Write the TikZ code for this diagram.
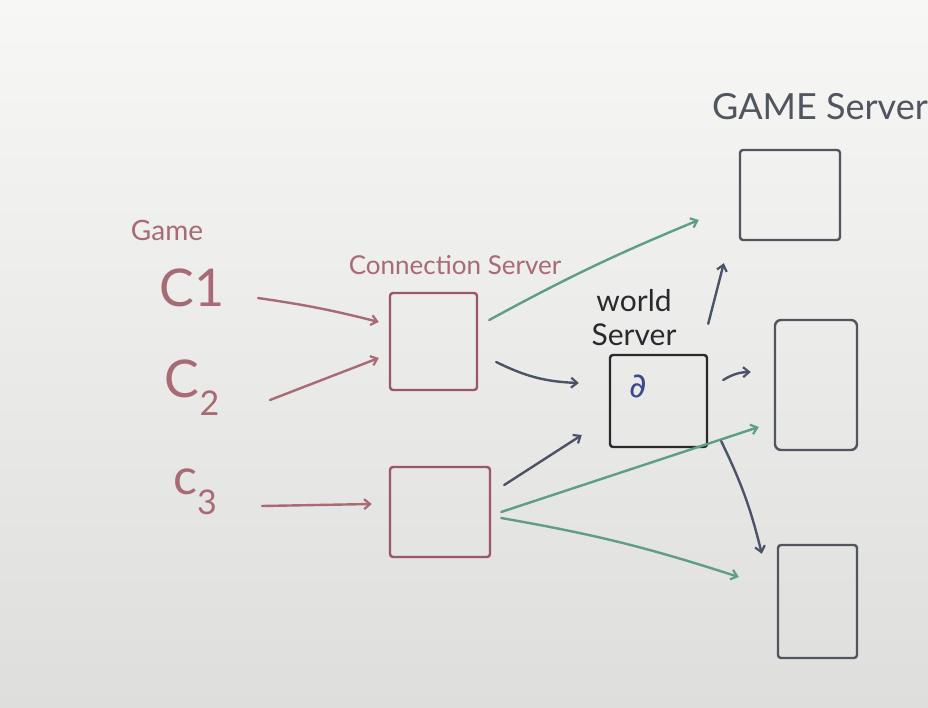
\documentclass[tikz,border=0pt]{standalone}
\usepackage{fontspec}
\setmainfont{Lato}
\newfontfamily\symfont{DejaVu Sans}
\usetikzlibrary{arrows.meta,calc}
\definecolor{redink}{HTML}{A86A74}
\definecolor{redbox}{HTML}{9A5866}
\definecolor{greenink}{HTML}{5E9E86}
\definecolor{darkink}{HTML}{4C5366}
\definecolor{blackink}{HTML}{2A2A2E}
\definecolor{grayink}{HTML}{50555F}
\definecolor{blueink}{HTML}{3C4A8C}
\definecolor{bgtop}{HTML}{F7F7F5}
\definecolor{bgbot}{HTML}{DEDEDC}
\begin{document}
\begin{tikzpicture}[x=1pt,y=-1pt,
  ink/.style={line width=2.4pt, line cap=round, line join=round},
  tip/.style={-{Straight Barb[length=6pt,width=10pt,line width=2.2pt]}},
  board/.style={draw, rectangle, ink, rounded corners=3pt, inner sep=0pt},
  redarrow/.style={ink, tip, draw=redink},
  greenarrow/.style={ink, tip, draw=greenink},
  darkarrow/.style={ink, tip, draw=darkink},
  label/.style={inner sep=0pt, anchor=center}
]
\shade[top color=bgtop, bottom color=bgbot] (0,0) rectangle (928,708);
\useasboundingbox (0,0) rectangle (928,708);

% text labels
\node[label, text=redink, font=\fontsize{28}{30}\selectfont] (game) at (167,230) {Game};
\node[label, text=redink, font=\fontsize{52}{54}\selectfont] (c1) at (192,288) {C1};
\node[label, text=redink, font=\fontsize{52}{54}\selectfont] (c2) at (192,388) {C\raisebox{-0.35em}{\fontsize{34}{36}\selectfont 2}};
\node[label, text=redink, font=\fontsize{50}{52}\selectfont] (c3) at (195,492) {c\raisebox{-0.4em}{\fontsize{34}{36}\selectfont 3}};
\node[label, text=redink, font=\fontsize{26}{28}\selectfont] (cslabel) at (455,265) {Connection Server};
\node[label, text=blackink, font=\fontsize{30}{34}\selectfont, align=center] (wslabel) at (634,318) {world\\Server};
\node[label, text=grayink, font=\fontsize{36}{38}\selectfont] (gslabel) at (820,107) {GAME Server};

% boxes
\node[board, draw=redbox, minimum width=87pt, minimum height=97pt] (cs1) at (433.5,341.5) {};
\node[board, draw=redbox, minimum width=100pt, minimum height=90pt] (cs2) at (440,512) {};
\node[board, draw=blackink, minimum width=97pt, minimum height=92pt] (ws) at (658.5,401) {};
\node[label, text=blueink, font=\symfont\fontsize{34}{36}\selectfont] (wsmark) at (638,386) {∂};
\node[board, draw=grayink, minimum width=100pt, minimum height=90pt] (gs1) at (790,195) {};
\node[board, draw=grayink, minimum width=82pt, minimum height=130pt, rounded corners=6pt] (gs2) at (816,385) {};
\node[board, draw=grayink, minimum width=79pt, minimum height=113pt] (gs3) at (817.5,601.5) {};

% client arrows
\draw[redarrow] ($(c1.center)+(66,10)$) to[bend left=3] ($(cs1.west)+(-10,-19.5)$);
\draw[redarrow] ($(c2.center)+(78,12)$) -- ($(cs1.west)+(-10,16.5)$);
\draw[redarrow] ($(c3.center)+(67,14)$) -- ($(cs2.west)+(-17,-8)$);

% connection server arrows
\draw[greenarrow] ($(cs1.east)+(11,-21.5)$) to[bend left=3] ($(gs1.west)+(-40,25)$);
\draw[darkarrow] ($(cs1.east)+(18,20.5)$) to[bend right=12] ($(ws.west)+(-30,-18)$);
\draw[darkarrow] ($(cs2.east)+(13,-27)$) -- ($(ws.west)+(-27,34)$);
\draw[greenarrow] ($(cs2.east)+(10,0)$) -- ($(gs2.west)+(-15,42)$);
\draw[greenarrow] ($(cs2.east)+(10,6)$) to[bend left=4] ($(gs3.west)+(-38,-24.5)$);

% world server arrows
\draw[darkarrow] ($(ws.north east)+(0,-30)$) -- ($(gs1.south west)+(-15,22)$);
\draw[darkarrow] ($(ws.east)+(15,-21)$) to[bend left=15] ($(gs2.west)+(-23,-13)$);
\draw[darkarrow] ($(ws.south east)+(13,-7)$) to[bend left=6] ($(gs3.north west)+(-15,10)$);
\end{tikzpicture}
\end{document}
